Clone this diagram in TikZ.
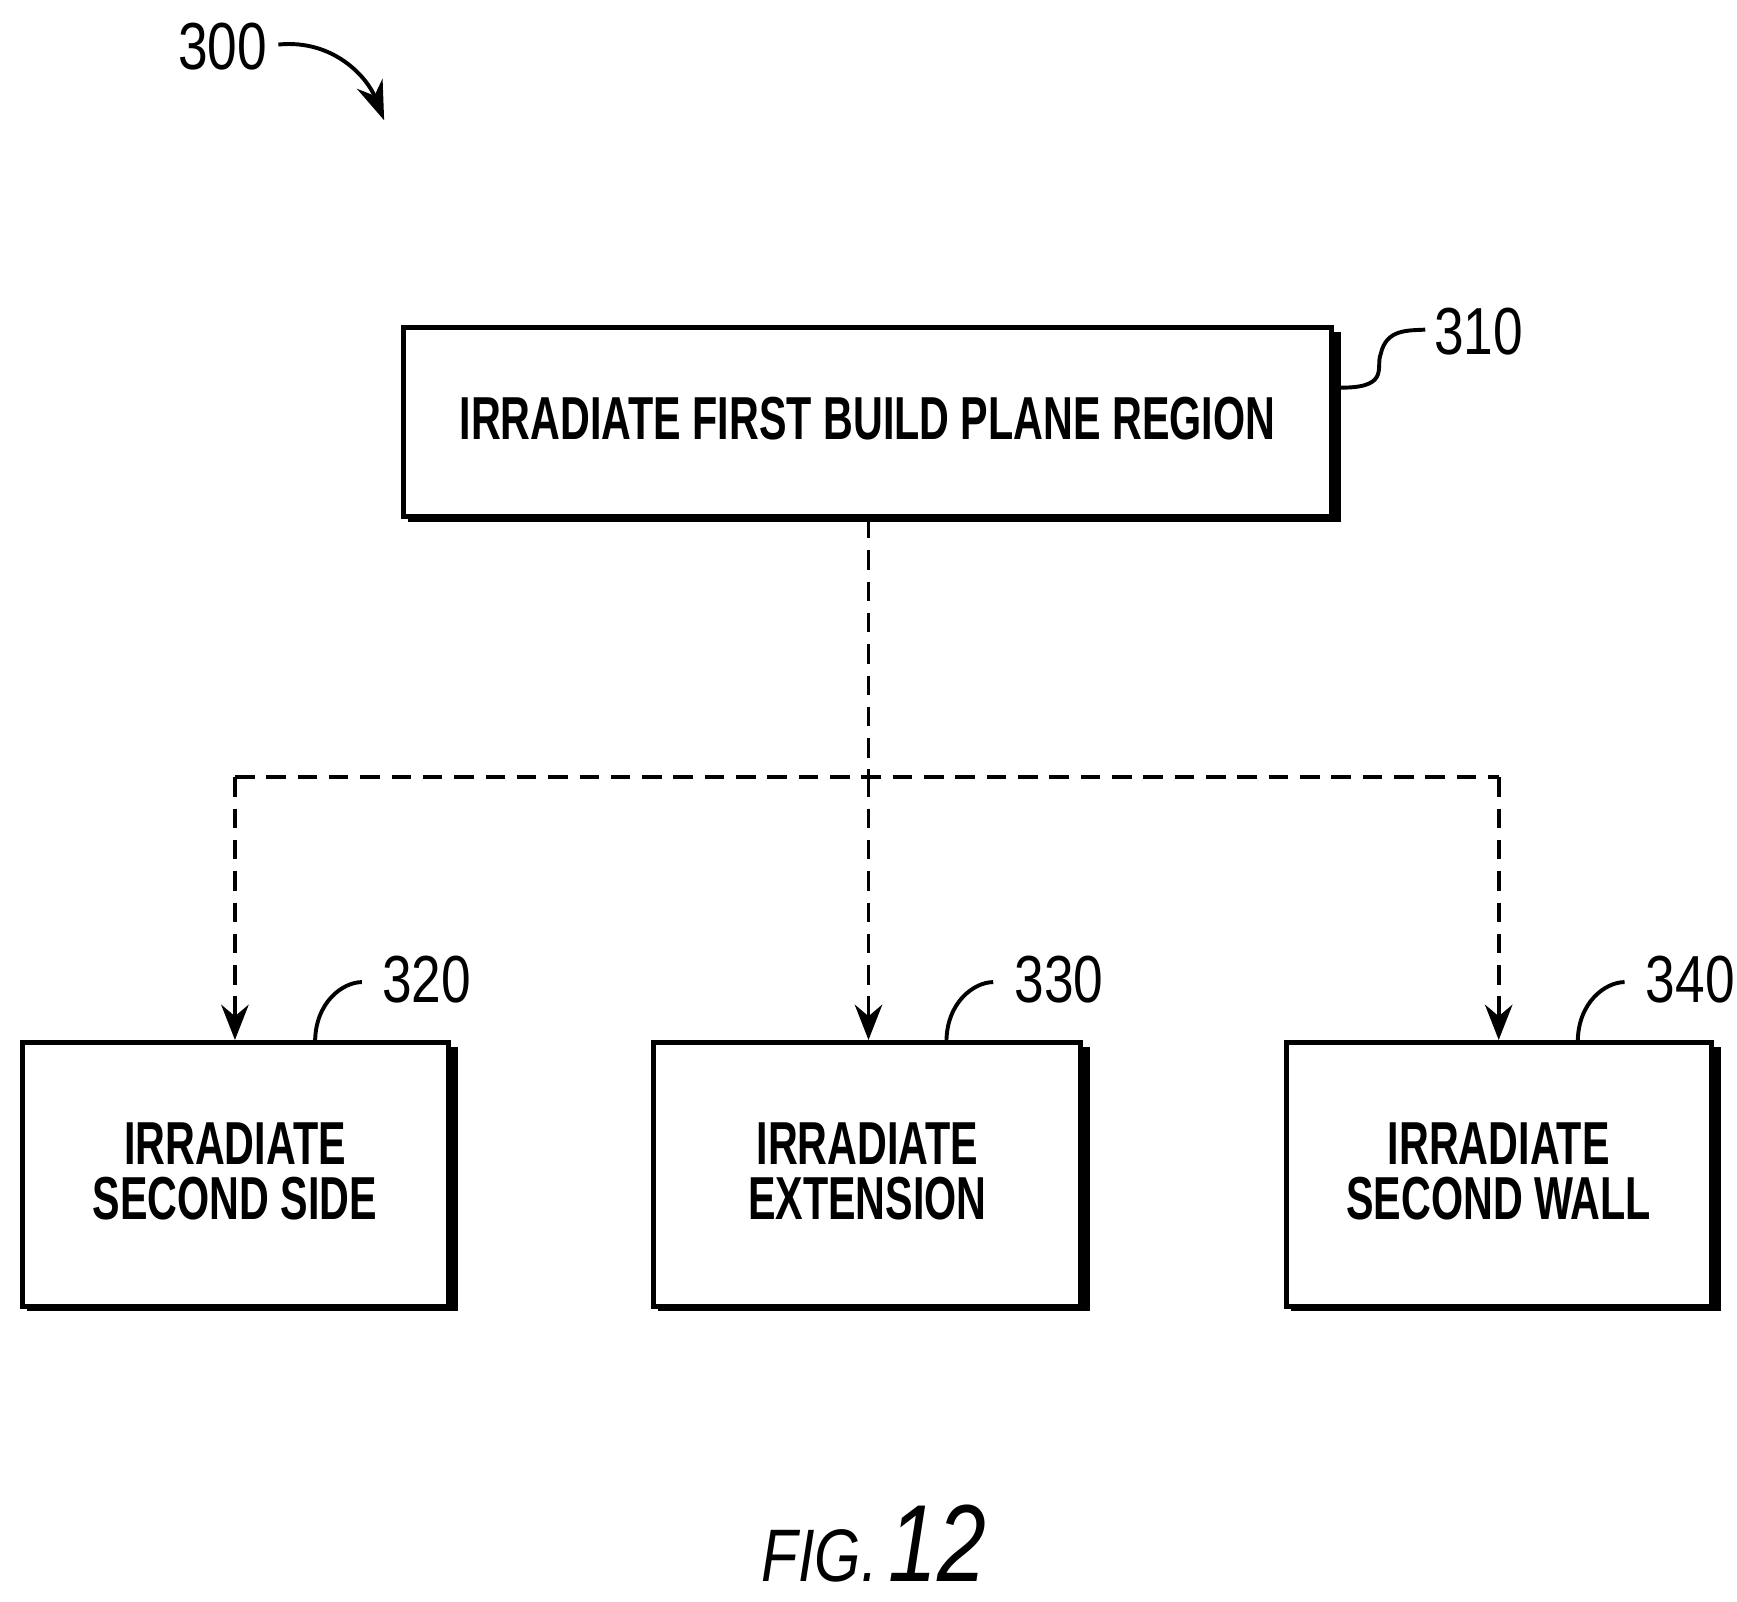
\documentclass[tikz,border=0pt]{standalone}
\usepackage{fontspec}
\usepackage{graphicx}
\setmainfont{Liberation Sans}
\usetikzlibrary{arrows.meta}
\newcommand{\nar}[1]{\scalebox{0.68}[1]{#1}}
\newcommand{\narl}[1]{\scalebox{0.8}[1]{#1}}
\begin{document}
\begin{tikzpicture}[x=0.01cm,y=-0.01cm,
  box/.style={draw,line width=1.3pt,fill=white},
  shadow/.style={line width=2.6pt},
  lab/.style={font=\fontsize{17}{20}\selectfont},
  txt/.style={font=\bfseries\fontsize{15.5}{18}\selectfont,align=center},
  dsh/.style={line width=1pt,dash pattern=on 5pt off 3pt},
  arr/.style={-{Stealth[length=9pt,width=7pt]}}]
\useasboundingbox (0,0) rectangle (1560,1438);
\newcommand{\mybox}[5]{%
  \draw[shadow] (#1+4,#4) -- (#3+4,#4) -- (#3+4,#2+4);
  \draw[box] (#1,#2) rectangle (#3,#4);
  \node[txt] (#5) at ({(#1+#3)/2},{(#2+#4)/2}) {};}
\mybox{362}{294}{1196}{464}{b310}
\mybox{20}{936}{403}{1173}{b320}
\mybox{587}{936}{970}{1173}{b330}
\mybox{1155}{936}{1537}{1173}{b340}
\node[txt] at (779,376) {\nar{IRRADIATE FIRST BUILD PLANE REGION}};
\node[txt] at (211,1052) {\nar{IRRADIATE}\\[-4pt]\nar{SECOND SIDE}};
\node[txt] at (779,1052) {\nar{IRRADIATE}\\[-4pt]\nar{EXTENSION}};
\node[txt] at (1346,1052) {\nar{IRRADIATE}\\[-4pt]\nar{SECOND WALL}};
\coordinate (j) at (780,698);
\coordinate (jl) at (211,698);
\coordinate (jr) at (1346,698);
\draw[dsh] (780,466) -- (j);
\draw[dsh] (jl) -- (jr);
\draw[dsh,arr] (j) -- (780,934);
\draw[dsh,arr] (jl) -- (211,934);
\draw[dsh,arr] (jr) -- (1346,934);
\node[lab] (l310) at (1328,298) {\narl{310}};
\draw[line width=1pt] (1198,348) .. controls (1250,350) and (1235,330) .. (1240,318) .. controls (1245,295) and (1265,297) .. (1280,296);
\node[lab] (l320) at (383,880) {\narl{320}};
\node[lab] (l330) at (951,880) {\narl{330}};
\node[lab] (l340) at (1518,880) {\narl{340}};
\foreach \x in {283,850,1417}
  \draw[line width=1pt] (\x,936) .. controls (\x,900) and (\x+25,882) .. (\x+42,882);
\node[lab] (l300) at (200,42) {\narl{300}};
\draw[line width=1pt,-{Stealth[length=10pt,width=7pt]}] (250,40) .. controls (300,35) and (330,70) .. (345,108);
\node[font=\itshape,anchor=base] (fig) at (785,1420) {\narl{\fontsize{19}{22}\selectfont FIG.} \narl{\fontsize{28}{30}\selectfont 12}};
\end{tikzpicture}
\end{document}
